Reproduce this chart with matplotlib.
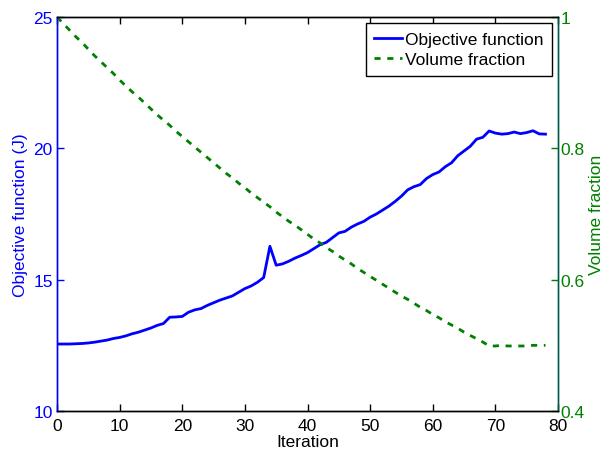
import matplotlib
matplotlib.use("Agg")
import matplotlib.pyplot as plt

plt.rcParams['font.family'] = ['Liberation Sans', 'DejaVu Sans']

iterations = list(range(0, 79))

objective = [
    12.55, 12.55, 12.55, 12.56, 12.57, 12.59, 12.62, 12.66, 12.70, 12.76,
    12.80, 12.86, 12.94, 13.00, 13.08, 13.16, 13.26, 13.33, 13.57, 13.58,
    13.60, 13.76, 13.85, 13.90, 14.02, 14.12, 14.22, 14.30, 14.38, 14.52,
    14.66, 14.76, 14.90, 15.08, 16.27, 15.55, 15.60, 15.70, 15.82, 15.92,
    16.03, 16.18, 16.33, 16.42, 16.60, 16.78, 16.84, 17.00, 17.12, 17.22,
    17.38, 17.50, 17.65, 17.80, 17.98, 18.18, 18.42, 18.54, 18.62, 18.85,
    19.00, 19.10, 19.30, 19.45, 19.72, 19.90, 20.08, 20.35, 20.42, 20.66,
    20.58, 20.54, 20.56, 20.62, 20.56, 20.60, 20.67, 20.55, 20.54,
]

volume = [
    1.000, 0.990, 0.980, 0.970, 0.961, 0.951, 0.941, 0.932, 0.923, 0.914,
    0.904, 0.895, 0.886, 0.878, 0.869, 0.860, 0.851, 0.843, 0.835, 0.826,
    0.818, 0.810, 0.802, 0.794, 0.786, 0.778, 0.770, 0.762, 0.755, 0.747,
    0.740, 0.732, 0.725, 0.718, 0.711, 0.703, 0.696, 0.689, 0.683, 0.676,
    0.669, 0.662, 0.656, 0.649, 0.643, 0.636, 0.630, 0.624, 0.617, 0.611,
    0.605, 0.599, 0.593, 0.587, 0.581, 0.575, 0.570, 0.564, 0.558, 0.553,
    0.547, 0.542, 0.536, 0.531, 0.526, 0.520, 0.515, 0.510, 0.505, 0.499,
    0.499, 0.500, 0.499, 0.499, 0.499, 0.499, 0.500, 0.500, 0.500,
]

x_ticks = [0, 10, 20, 30, 40, 50, 60, 70, 80]
left_ticks = [10, 15, 20, 25]
right_ticks = [0.4, 0.6, 0.8, 1.0]
right_tick_labels = ['0.4', '0.6', '0.8', '1']

BLUE = '#0000ff'
GREEN = '#008000'
FS = 12.5

fig = plt.figure(figsize=(6.06, 4.52), dpi=100)
ax = fig.add_axes([57 / 606, 1 - 412 / 452, (558 - 57) / 606, (412 - 18) / 452])
ax2 = ax.twinx()

l1, = ax.plot(iterations, objective, color=BLUE, lw=2.0, label='Objective function')
l2, = ax2.plot(iterations, volume, color=GREEN, lw=2.0, linestyle=(0, (2.2, 2.4)),
               label='Volume fraction')

ax.set_xlim(0, 80)
ax.set_ylim(10, 25)
ax2.set_ylim(0.4, 1.0)
ax.set_xticks(x_ticks)
ax.set_yticks(left_ticks)
ax2.set_yticks(right_ticks)
ax2.set_yticklabels(right_tick_labels)

ax.tick_params(axis='x', direction='in', top=True, length=5, width=1, labelsize=FS,
               colors='black', pad=5)
ax.tick_params(axis='y', direction='in', length=5, width=1, labelsize=FS,
               colors=BLUE, pad=3)
ax2.tick_params(axis='y', direction='in', length=5, width=1, labelsize=FS,
                colors=GREEN, pad=2)

for a in (ax, ax2):
    a.spines['top'].set_color('black')
    a.spines['bottom'].set_color('black')
    for s in a.spines.values():
        s.set_linewidth(1.0)
ax.spines['left'].set_color(BLUE)
ax2.spines['left'].set_color(BLUE)
ax.spines['right'].set_color('#005a4a')
ax2.spines['right'].set_color('#005a4a')

ax.set_xlabel('Iteration', fontsize=FS, labelpad=1)
ax.set_ylabel('Objective function (J)', fontsize=FS, color=BLUE, labelpad=4)
ax2.set_ylabel('Volume fraction', fontsize=FS, color=GREEN, labelpad=3)

leg = ax2.legend([l1, l2], ['Objective function', 'Volume fraction'],
                 loc='upper right', fontsize=FS, fancybox=False, framealpha=1,
                 edgecolor='black', borderaxespad=0.35, handlelength=1.6,
                 handletextpad=0.15, borderpad=0.5, labelspacing=0.3)
leg.get_frame().set_linewidth(1.0)

fig.savefig('out.png', dpi=100)
